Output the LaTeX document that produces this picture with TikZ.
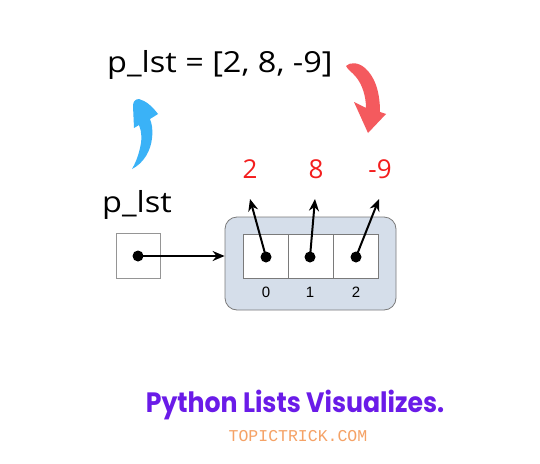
\documentclass[tikz,border=0pt]{standalone}
\usepackage{fontspec}
\setmainfont{Open Sans}
\newfontfamily\titlefont{Poppins}
\newfontfamily\urlfont{Liberation Mono}
\newfontfamily\idxfont{Liberation Sans}
\usetikzlibrary{arrows.meta}
\definecolor{numred}{HTML}{F41E1E}
\definecolor{bluearr}{HTML}{3AB2F7}
\definecolor{redarr}{HTML}{F45A5E}
\definecolor{boxfill}{HTML}{D5DEEA}
\definecolor{boxline}{HTML}{7A7A7A}
\definecolor{titlepurple}{HTML}{6A1BE8}
\definecolor{urlorange}{HTML}{F5A266}
\tikzset{
  bigtext/.style={font=\fontsize{29}{32}\selectfont, inner sep=0pt, anchor=base west},
  numtext/.style={font=\fontsize{26}{28}\selectfont, text=numred, inner sep=0pt},
  idxtext/.style={font=\idxfont\fontsize{15}{16}\selectfont, inner sep=0pt},
  cell/.style={draw=boxline, fill=white, line width=0.7pt, minimum width=45pt, minimum height=44pt, inner sep=0pt},
  refdot/.style={circle, fill=black, minimum size=11pt, inner sep=0pt},
  ptr/.style={line width=2pt, -{Stealth[length=12pt,width=10pt]}},
}
\begin{document}
\begin{tikzpicture}[x=1pt,y=-1pt]
\useasboundingbox[fill=white] (0,0) rectangle (540,463);
% top expression
\node[bigtext] (expr) at (107,72) {\scalebox{1.12}[1]{p\_lst = [2, 8, -9]}};
% blue brush arrow
\fill[bluearr] (132,169) .. controls (144,163) and (151,150) .. (152,138)
  .. controls (153,130) and (152,124) .. (150,119)
  -- (158,114) .. controls (152,106) and (146,101) .. (139,99)
  .. controls (135,99) and (133,102) .. (133,106)
  -- (134,128) -- (139,125)
  .. controls (142,132) and (142,140) .. (140,148)
  .. controls (138,157) and (135,164) .. (132,169) -- cycle;
% red brush arrow
\fill[redarr] (346,66) .. controls (350,62) and (358,62) .. (365,68)
  .. controls (374,76) and (380,90) .. (380,112)
  -- (386,114) -- (368,133) -- (354,102) -- (366,108)
  .. controls (366,96) and (362,84) .. (356,77)
  .. controls (352,72) and (348,70) .. (346,66) -- cycle;
% values
\node[numtext] (v0) at (250,169) {2};
\node[numtext] (v1) at (316,169) {8};
\node[numtext] (v2) at (380,169) {-9};
% label
\node[bigtext] (lbl) at (102,212) {\scalebox{1.12}[1]{p\_lst}};
% variable box
\node[cell, minimum width=44pt, minimum height=45pt, draw=boxline!80] (var) at (138,256) {};
\node[refdot] (vd) at (var.center) {};
% list object
\node[draw=boxline, fill=boxfill, line width=0.8pt, rounded corners=12pt, minimum width=171pt, minimum height=93pt, inner sep=0pt] (obj) at (310.5,263.5) {};
\node[cell] (c0) at (265.5,256) {};
\node[cell] (c1) at (310.5,256) {};
\node[cell] (c2) at (355.5,256) {};
\node[refdot] (d0) at (266,257) {};
\node[refdot] (d1) at (310,257) {};
\node[refdot] (d2) at (356,257) {};
\node[idxtext] (i0) at (266,292) {0};
\node[idxtext] (i1) at (310,292) {1};
\node[idxtext] (i2) at (356,292) {2};
\coordinate (t0) at (250,199);
\coordinate (t1) at (315,199);
\coordinate (t2) at (379,199);
\draw[ptr] (vd.center) -- (vd.center -| obj.west);
\draw[ptr] (d0.center) -- (t0);
\draw[ptr] (d1.center) -- (t1);
\draw[ptr] (d2.center) -- (t2);
% footer
\node[font=\titlefont\bfseries\fontsize{28}{30}\selectfont, text=titlepurple, inner sep=0pt, anchor=base] (title) at (295,412) {\scalebox{0.9}[1]{Python Lists Visualizes.}};
\node[font=\urlfont\fontsize{16.5}{18}\selectfont, text=urlorange, inner sep=0pt, anchor=base] (url) at (298,441) {TOPICTRICK.COM};
\end{tikzpicture}
\end{document}
